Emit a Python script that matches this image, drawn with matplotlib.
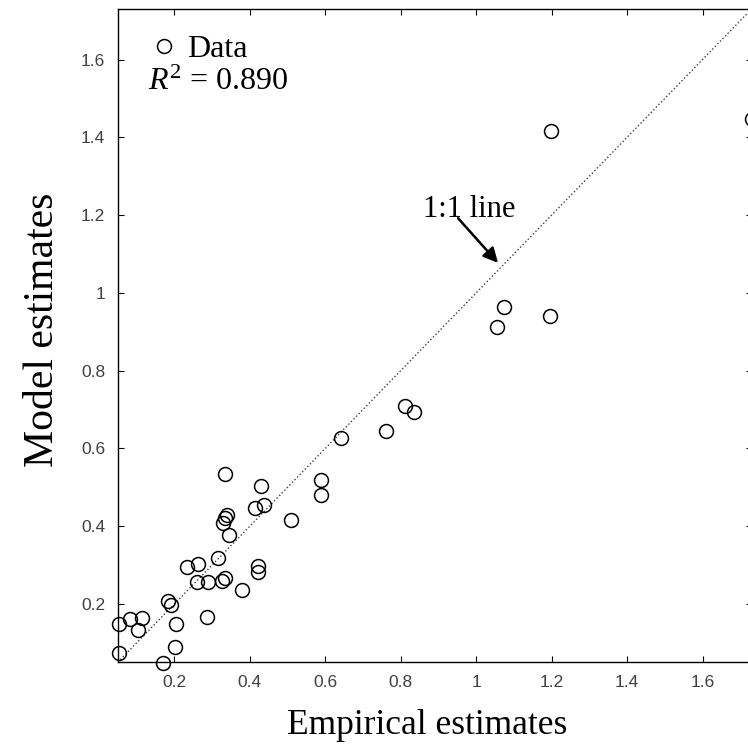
import numpy as np
import matplotlib
matplotlib.use("Agg")
import matplotlib.pyplot as plt

plt.rcParams["mathtext.fontset"] = "custom"
plt.rcParams["mathtext.rm"] = "Liberation Serif"
plt.rcParams["mathtext.it"] = "Liberation Serif:italic"

# empirical (x) vs model (y) estimates
empirical = [0.054, 0.083, 0.114, 0.104, 0.054, 0.170, 0.183, 0.192, 0.204, 0.203,
             0.234, 0.262, 0.317, 0.260, 0.288, 0.326, 0.334, 0.287, 0.379, 0.421,
             0.422, 0.335, 0.430, 0.413, 0.438, 0.340, 0.334, 0.329, 0.346, 0.509,
             0.589, 0.589, 0.642, 0.762, 0.812, 0.834, 1.055, 1.075, 1.196, 1.198,
             1.730]
model = [0.149, 0.162, 0.165, 0.132, 0.075, 0.049, 0.208, 0.197, 0.148, 0.089,
         0.296, 0.304, 0.318, 0.256, 0.257, 0.260, 0.268, 0.166, 0.236, 0.297,
         0.283, 0.533, 0.503, 0.448, 0.454, 0.428, 0.420, 0.407, 0.377, 0.417,
         0.520, 0.481, 0.626, 0.644, 0.708, 0.693, 0.913, 0.964, 0.940, 1.417,
         1.446]
r2 = 0.890
lims = [0.05, 1.73]
ticks = [0.2, 0.4, 0.6, 0.8, 1.0, 1.2, 1.4, 1.6]
tick_labels = ["0.2", "0.4", "0.6", "0.8", "1", "1.2", "1.4", "1.6"]

fig = plt.figure(figsize=(7.48, 7.54), dpi=100)
ax = fig.add_axes([0.1574, 0.1216, 0.8474, 0.8665])

ax.plot(lims, lims, linestyle=":", color="0.25", linewidth=1.0, zorder=1)
ax.plot(empirical, model, "o", markerfacecolor="none", markeredgecolor="black",
        markersize=10, markeredgewidth=1.1, label="Data", clip_on=False, zorder=2)

ax.set_xlim(lims)
ax.set_ylim(lims)
ax.set_xticks(ticks)
ax.set_xticklabels(tick_labels)
ax.set_yticks(ticks)
ax.set_yticklabels(tick_labels)
ax.tick_params(direction="in", length=4, width=0.8, top=True, right=True,
               labelsize=12.5, labelcolor="#404040", pad=9)
for t in ax.get_xticklabels() + ax.get_yticklabels():
    t.set_family("Liberation Sans")
for s in ax.spines.values():
    s.set_linewidth(1.0)

serif = "Liberation Serif"
ax.set_xlabel("Empirical estimates", family=serif, fontsize=25.5, labelpad=14)
ax.set_ylabel("Model estimates", family=serif, fontsize=30, labelpad=14)
ax.xaxis.label.set_x(0.488)
ax.yaxis.label.set_y(0.509)

leg = ax.legend(loc="upper left", bbox_to_anchor=(0.018, 1.0), frameon=False,
                prop={"family": serif, "size": 23}, handlelength=0.6,
                handletextpad=0.4, borderpad=0.3)
ax.text(0.047, 0.888, r"$R^2$ = %.3f" % r2, transform=ax.transAxes,
        family=serif, fontsize=23, va="center", ha="left")

# label and arrow pointing at the 1:1 line
ax.text(0.86, 1.214, "1:1 line", fontsize=22, family=serif, ha="left", va="center")
ax.annotate("", xy=(1.058, 1.077), xytext=(0.952, 1.192),
            arrowprops=dict(arrowstyle="-|>", color="black", lw=1.8,
                            mutation_scale=22, shrinkA=0, shrinkB=0))

fig.savefig("out.png", dpi=100)
